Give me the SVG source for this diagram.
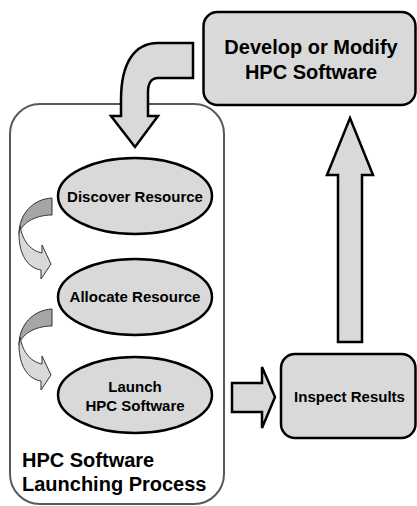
<svg xmlns="http://www.w3.org/2000/svg" width="417" height="506" viewBox="0 0 417 506">
<style>
.lbl{font-family:"Liberation Sans",Arial,sans-serif;font-weight:bold;fill:#000;text-anchor:middle}
.box{fill:#d9d9d9;stroke:#000;stroke-width:2.5}
.big{fill:#d9d9d9;stroke:#000;stroke-width:2.5;stroke-linejoin:miter}
.dk{fill:#a6a6a6;stroke:#333;stroke-width:1}
.lt{fill:#d9d9d9;stroke:#333;stroke-width:1}
</style>
<rect width="417" height="506" fill="#fff"/>
<g id="process">
<rect x="10" y="104" width="214" height="400" rx="30" ry="30" fill="none" stroke="#595959" stroke-width="2"/>
<text class="lbl" x="22" y="467" font-size="20" style="text-anchor:start">HPC Software</text>
<text class="lbl" x="22" y="491" font-size="20" style="text-anchor:start">Launching Process</text>
</g>
<g id="develop">
<rect class="box" x="203.5" y="12" width="212" height="93" rx="14" ry="14"/>
<text class="lbl" x="311" y="54" font-size="20">Develop or Modify</text>
<text class="lbl" x="311" y="79" font-size="20">HPC Software</text>
</g>
<g id="inspect">
<rect class="box" x="281" y="354" width="134.5" height="84" rx="14" ry="14"/>
<text class="lbl" x="349.5" y="402" font-size="15">Inspect Results</text>
</g>
<g id="discover">
<ellipse class="box" cx="135" cy="196" rx="77" ry="38"/>
<text class="lbl" x="135" y="202" font-size="15">Discover Resource</text>
</g>
<g id="allocate">
<ellipse class="box" cx="135" cy="297" rx="77" ry="38"/>
<text class="lbl" x="135" y="302" font-size="15">Allocate Resource</text>
</g>
<g id="launch">
<ellipse class="box" cx="135" cy="395" rx="77" ry="38"/>
<text class="lbl" x="135" y="392" font-size="15">Launch</text>
<text class="lbl" x="135" y="411" font-size="15">HPC Software</text>
</g>
<g id="connectors">
<path class="big" d="M193,43 L158,43 C135,43 121,62 121,100 L121,116 L111,116 L135,147 L158,116 L148,116 L148,92 C148,84 151,78 158,78 L193,78 Z"/>
<path class="big" d="M338,342 L338,175 L327,175 L350,118 L373,175 L362,175 L362,342 Z"/>
<path class="big" d="M232,383 L262,383 L262,367 L275,397 L262,428 L262,412 L232,412 Z"/>
<g id="step1">
<path class="dk" d="M52,198 C33,199 19,214 19,234 C21,224 34,215 52,215 Z"/>
<path class="lt" d="M20,226 C23,243 32,251 42,253 L42,245 L51,264 L41,279 L41,270 C28,268 19,255 19,234 Z"/>
</g>
<g id="step2" transform="translate(0,111)">
<path class="dk" d="M52,198 C33,199 19,214 19,234 C21,224 34,215 52,215 Z"/>
<path class="lt" d="M20,226 C23,243 32,251 42,253 L42,245 L51,264 L41,279 L41,270 C28,268 19,255 19,234 Z"/>
</g>
</g>
</svg>
